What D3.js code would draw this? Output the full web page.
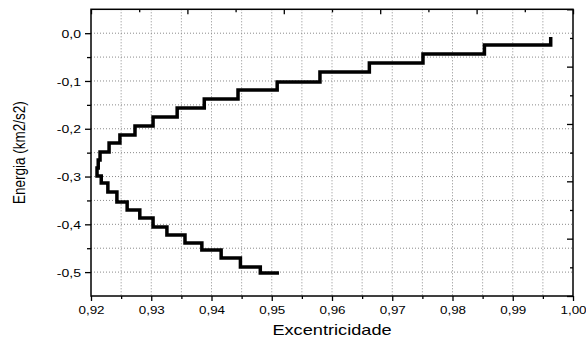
<!DOCTYPE html>
<html>
<head>
<meta charset="utf-8">
<script src="https://cdn.jsdelivr.net/npm/d3@7"></script>
<style>
  body { margin: 0; background: #fff; }
  text { font-family: "Liberation Sans", Arial, sans-serif; fill: #000; }
</style>
</head>
<body>
<div id="chart"></div>
<script>
// Chart data
var ecc = [0.9963, 0.9853, 0.9751, 0.9662, 0.9580, 0.9509, 0.9444, 0.9388, 0.9343, 0.9303,
           0.9273, 0.9248, 0.9230, 0.9215, 0.9212, 0.9210, 0.9217, 0.9228, 0.9243, 0.9260,
           0.9281, 0.9303, 0.9326, 0.9356, 0.9384, 0.9416, 0.9448, 0.9481, 0.9512];
var energy = [-0.008, -0.0245, -0.0433, -0.0622, -0.081, -0.1019, -0.1187, -0.1375, -0.1563, -0.1752,
              -0.1940, -0.2129, -0.2296, -0.2485, -0.2652, -0.2820, -0.2987, -0.3133, -0.3322, -0.3531,
              -0.3699, -0.3866, -0.4055, -0.4222, -0.4390, -0.4536, -0.4704, -0.4892, -0.5018];

var xMajor = [0.92, 0.93, 0.94, 0.95, 0.96, 0.97, 0.98, 0.99, 1.00];
var xMinor = [0.925, 0.935, 0.945, 0.955, 0.965, 0.975, 0.985, 0.995];
var yMajor = [0.0, -0.1, -0.2, -0.3, -0.4, -0.5];
var yMinor = [0.05, -0.05, -0.15, -0.25, -0.35, -0.45, -0.55];
var secMajor = [0, 0.2, 0.4, 0.6, 0.8, 1.0];
var secMinor = [0.1, 0.3, 0.5, 0.7, 0.9];

var xTitle = "Excentricidade";
var yTitle = "Energia (km2/s2)";

// Chart set up
var svgWidth = 586;
var svgHeight = 340;
var margin = { top: 9.3, right: 13, bottom: 44, left: 91 };
var width = svgWidth - margin.left - margin.right;
var height = svgHeight - margin.top - margin.bottom;
var stretch = 1.22; // the picture's text is wider than it is tall

var locale = d3.formatLocale({ decimal: ",", thousands: ".", grouping: [3], currency: ["", ""], minus: "-" });

var svg = d3.select("#chart")
  .append("svg")
  .attr("width", svgWidth)
  .attr("height", svgHeight);

var chartGroup = svg.append("g")
  .attr("transform", `translate(${margin.left}, ${margin.top})`);

// Scales
var xScale = d3.scaleLinear().domain([0.92, 1.00]).range([0, width]);
var yScale = d3.scaleLinear().domain([-0.55, 0.05]).range([height, 0]);
var secX = d3.scaleLinear().domain([0, 1]).range([0, width]);
var secY = d3.scaleLinear().domain([0, 1]).range([0, height]);

// Grid lines
var gridX = xMajor.concat(xMinor).filter(d => d > 0.921 && d < 0.999);
var gridY = yMajor.concat(yMinor).filter(d => d > -0.549 && d < 0.049);

chartGroup.append("g").selectAll("line")
  .data(gridX)
  .enter()
  .append("line")
  .attr("x1", d => xScale(d))
  .attr("x2", d => xScale(d))
  .attr("y1", 0)
  .attr("y2", height)
  .attr("stroke", "#8a8a8a")
  .attr("stroke-width", 1)
  .attr("stroke-dasharray", "1,2");

chartGroup.append("g").selectAll("line")
  .data(gridY)
  .enter()
  .append("line")
  .attr("x1", 0)
  .attr("x2", width)
  .attr("y1", d => yScale(d))
  .attr("y2", d => yScale(d))
  .attr("stroke", "#8a8a8a")
  .attr("stroke-width", 1)
  .attr("stroke-dasharray", "1,2");

// Axes: major ticks with labels, minor ticks without
var bottomAxis = d3.axisBottom(xScale).tickValues(xMajor).tickSize(5).tickFormat(locale.format(".2f"));
var bottomMinor = d3.axisBottom(xScale).tickValues(xMinor).tickSize(3).tickFormat("");
var leftAxis = d3.axisLeft(yScale).tickValues(yMajor).tickSize(6).tickFormat(locale.format(".1f"));
var leftMinor = d3.axisLeft(yScale).tickValues(yMinor.filter(d => d > -0.549 && d < 0.049)).tickSize(4).tickFormat("");
var topMajor = d3.axisBottom(secX).tickValues(secMajor).tickSize(5).tickFormat("");
var topMinor = d3.axisBottom(secX).tickValues(secMinor).tickSize(3).tickFormat("");
var rightMajor = d3.axisLeft(secY).tickValues(secMajor).tickSize(6).tickFormat("");
var rightMinor = d3.axisLeft(secY).tickValues(secMinor).tickSize(3).tickFormat("");

var gBottom = chartGroup.append("g").attr("transform", `translate(0, ${height})`).call(bottomAxis);
chartGroup.append("g").attr("transform", `translate(0, ${height})`).call(bottomMinor);
var gLeft = chartGroup.append("g").call(leftAxis);
chartGroup.append("g").call(leftMinor);
chartGroup.append("g").call(topMajor);
chartGroup.append("g").call(topMinor);
chartGroup.append("g").attr("transform", `translate(${width}, 0)`).call(rightMajor);
chartGroup.append("g").attr("transform", `translate(${width}, 0)`).call(rightMinor);

chartGroup.selectAll(".domain").remove();
chartGroup.selectAll(".tick line").attr("stroke", "#000").attr("stroke-width", 1.3);

gBottom.selectAll("text")
  .attr("y", 0)
  .attr("dy", 0)
  .attr("transform", `translate(0, 18) scale(${stretch}, 1)`)
  .style("font-size", "11px");

gLeft.selectAll("text")
  .attr("x", 0)
  .attr("dy", "0.35em")
  .attr("transform", `translate(-10, 0) scale(${stretch}, 1)`)
  .style("font-size", "11.5px");

// Frame
chartGroup.append("rect")
  .attr("x", 0)
  .attr("y", 0)
  .attr("width", width)
  .attr("height", height)
  .attr("fill", "none")
  .attr("stroke", "#000")
  .attr("stroke-width", 1.5);

// Step line
var points = ecc.map((e, i) => [e, energy[i]]);
var line = d3.line()
  .x(d => xScale(d[0]))
  .y(d => yScale(d[1]))
  .curve(d3.curveStepBefore);

chartGroup.append("path")
  .datum(points)
  .attr("d", line)
  .attr("fill", "none")
  .attr("stroke", "#000")
  .attr("stroke-width", 3.5)
  .attr("stroke-linejoin", "miter");

// Axis titles
svg.append("text")
  .attr("transform", `translate(${margin.left + width / 2}, 335) scale(1.3, 1)`)
  .attr("text-anchor", "middle")
  .style("font-size", "14px")
  .text(xTitle);

svg.append("text")
  .attr("transform", `translate(25, ${margin.top + height / 2}) rotate(-90) scale(1, ${stretch})`)
  .attr("text-anchor", "middle")
  .style("font-size", "13.5px")
  .text(yTitle);
</script>
</body>
</html>
